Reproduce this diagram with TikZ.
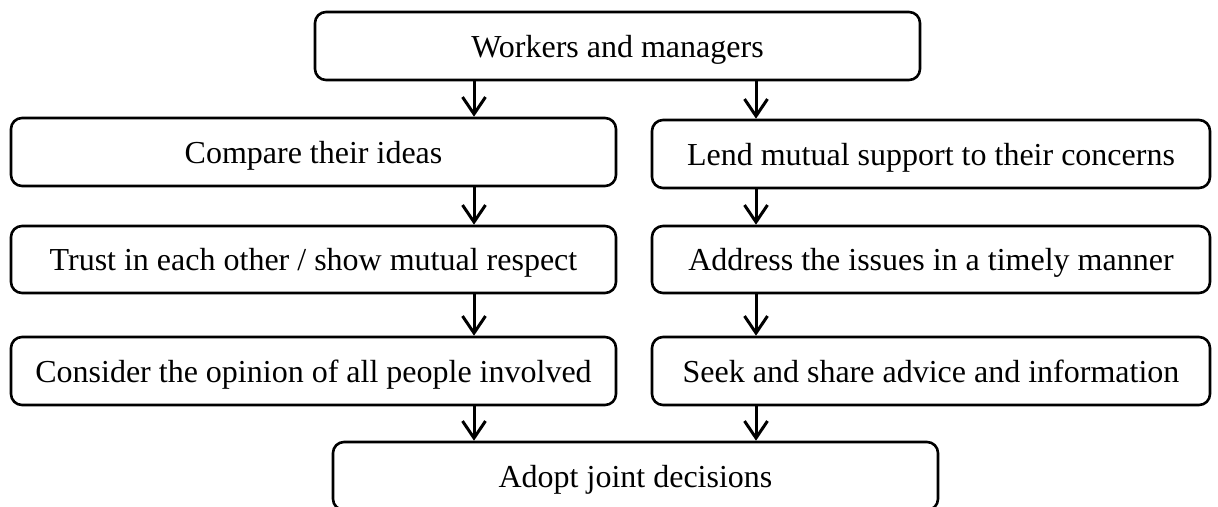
\documentclass[tikz,border=0pt]{standalone}
\usepackage{fontspec}
\setmainfont{Liberation Serif}
\usetikzlibrary{arrows.meta}
\begin{document}
\begin{tikzpicture}[x=1pt,y=-1pt,
  box/.style={draw, line width=2.6pt, rounded corners=11pt, inner sep=0pt,
    minimum height=68pt, text height=25pt, text depth=3pt,
    font=\fontsize{32}{38}\selectfont},
  wide/.style={box, minimum width=605pt},
  narrow/.style={box, minimum width=558pt},
  arr/.style={line width=3pt, -{Straight Barb[length=17pt,width=23pt,line width=3pt]}}]
\clip (0,0) rectangle (1218,506);
\useasboundingbox (0,0) rectangle (1218,506);
\coordinate (cx1) at (474,0);
\coordinate (cx2) at (756,0);
\node[wide] (top) at (617.5,46) {Workers and managers};
\node[wide] (l1) at (313.5,152) {Compare their ideas};
\node[narrow] (r1) at (931,154) {Lend mutual support to their concerns};
\node[wide, minimum height=67pt] (l2) at (313.5,259.5) {Trust in each other / show mutual respect};
\node[narrow, minimum height=67pt] (r2) at (931,259.5) {Address the issues in a timely manner};
\node[wide] (l3) at (313.5,371) {Consider the opinion of all people involved};
\node[narrow] (r3) at (931,371) {Seek and share advice and information};
\node[wide] (bot) at (635.5,476) {Adopt joint decisions};
\draw[arr] (top.south -| cx1) -- (l1.north -| cx1);
\draw[arr] (top.south -| cx2) -- (r1.north -| cx2);
\draw[arr] (l1.south -| cx1) -- (l2.north -| cx1);
\draw[arr] (r1.south -| cx2) -- (r2.north -| cx2);
\draw[arr] (l2.south -| cx1) -- (l3.north -| cx1);
\draw[arr] (r2.south -| cx2) -- (r3.north -| cx2);
\draw[arr] (l3.south -| cx1) -- (bot.north -| cx1);
\draw[arr] (r3.south -| cx2) -- (bot.north -| cx2);
\end{tikzpicture}
\end{document}
